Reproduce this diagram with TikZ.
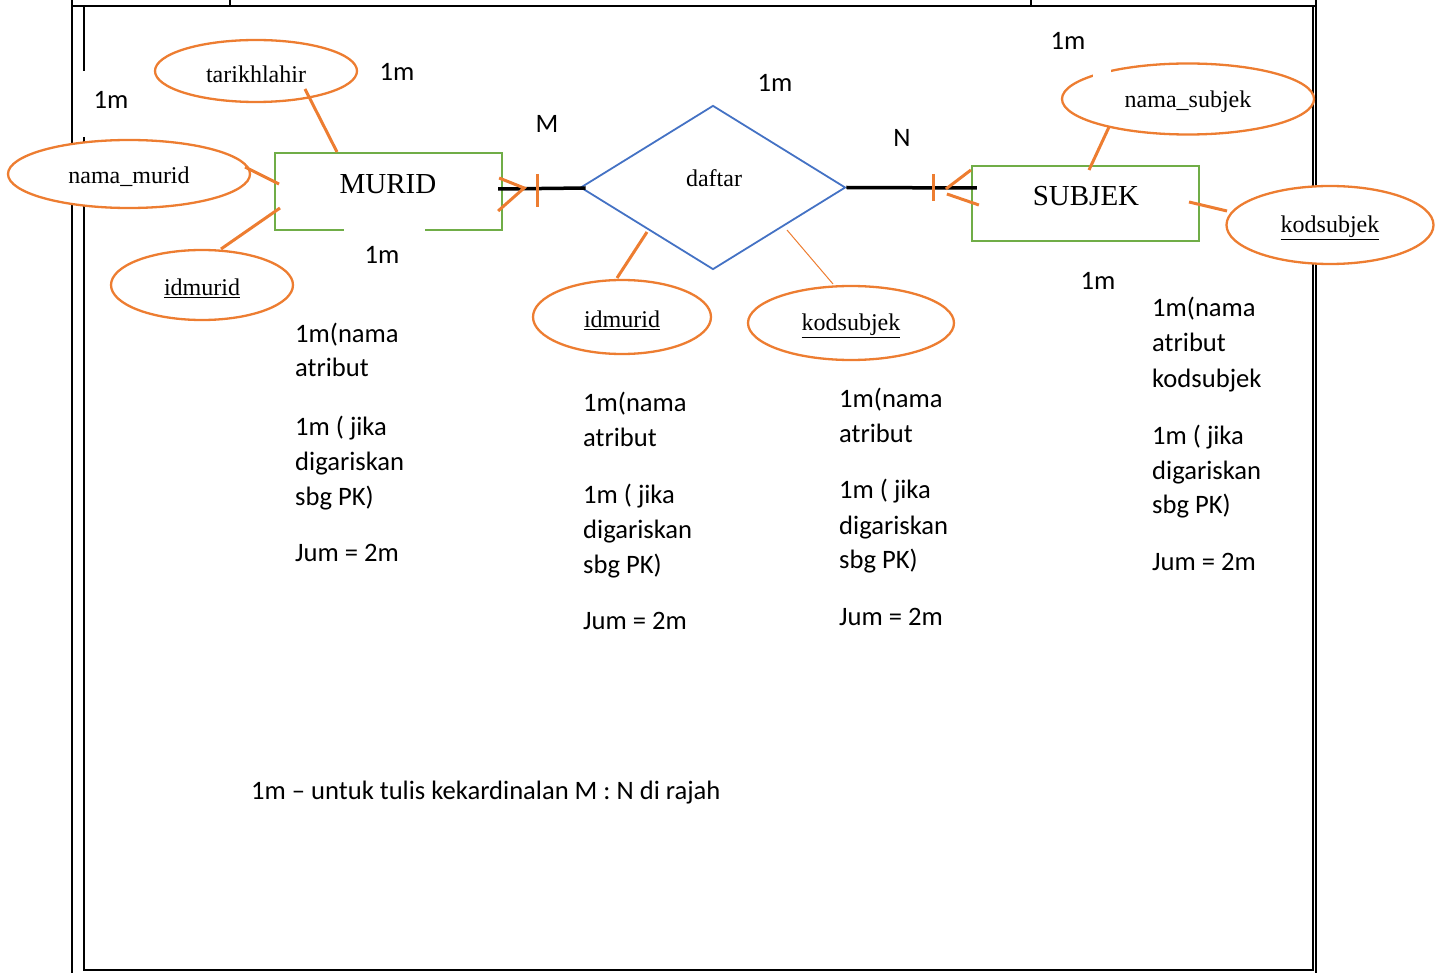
\documentclass[tikz,border=0pt]{standalone}
\usepackage{fontspec}
\setmainfont{Liberation Serif}
\newfontfamily\calib[Ligatures=TeX]{Carlito}
\usetikzlibrary{shapes.geometric,calc}
\definecolor{orng}{HTML}{ED7D31}
\definecolor{grn}{HTML}{70AD47}
\definecolor{blu}{HTML}{4472C4}
\newcommand{\lowr}[1]{\raisebox{-3pt}[\height][\depth]{#1}}
\begin{document}
\begin{tikzpicture}[x=1pt,y=-1pt,
  frame/.style={draw=black,line width=1.6pt},
  attr/.style={ellipse,draw=orng,line width=2.3pt,fill=white,inner sep=0pt,font=\fontsize{24}{28}\selectfont},
  entity/.style={rectangle,draw=grn,line width=2.2pt,inner sep=0pt},
  relsh/.style={diamond,draw=blu,line width=1.8pt,inner sep=0pt},
  conn/.style={draw=orng,line width=3pt},
  thinconn/.style={draw=orng,line width=1pt},
  relline/.style={draw=black,line width=3.5pt},
  lbl/.style={inner sep=0pt,font=\calib\fontsize{26.6}{32}\selectfont},
  serlbl/.style={inner sep=0pt,font=\fontsize{24}{28}\selectfont},
  bigser/.style={inner sep=0pt,font=\fontsize{29}{34}\selectfont}]
\useasboundingbox (0,0) rectangle (1437,973);
% frame
\draw[frame] (72,0) -- (72,973);
\draw[frame] (1316,0) -- (1316,973);
\draw[frame] (72,6) -- (1316,6);
\draw[frame] (230,0) -- (230,6);
\draw[frame] (1031,0) -- (1031,6);
\draw[frame] (84,6) -- (84,71);
\draw[frame] (84,137) -- (84,970) -- (1313,970) -- (1313,6);
% attributes
\node[attr,minimum width=202pt,minimum height=62pt] (tl) at (256,71) {\lowr{tarikhlahir}};
\node[attr,minimum width=242pt,minimum height=68pt] (nm) at (129,174) {\lowr{nama\_murid}};
\node[attr,minimum width=182pt,minimum height=70pt] (idL) at (202,285) {\lowr{\underline{idmurid}}};
\node[attr,minimum width=178pt,minimum height=74pt] (idM) at (622,317) {\lowr{\underline{idmurid}}};
\node[attr,minimum width=206pt,minimum height=74pt] (kodM) at (851,323) {\lowr{\underline{kodsubjek}}};
\node[attr,minimum width=252pt,minimum height=71pt] (ns) at (1188,99) {\lowr{nama\_subjek}};
\node[attr,minimum width=207pt,minimum height=78pt] (kodR) at (1330,225) {\lowr{\underline{kodsubjek}}};
\fill[white] (1093,66) rectangle (1111,80);
% entities and relationship
\node[entity,minimum width=227pt,minimum height=77pt] (murid) at (388.5,191.5) {};
\fill[white] (344,226) rectangle (425,235);
\node[bigser] (muridt) at (388,184) {MURID};
\node[entity,minimum width=227pt,minimum height=75pt] (subjek) at (1085.5,203.5) {};
\node[bigser] (subjekt) at (1086,196) {SUBJEK};
\node[relsh,minimum width=265pt,minimum height=164pt] (rel) at (713,187.5) {};
\node[serlbl] (relt) at (714,178) {daftar};
% attribute connectors
\draw[conn] ([shift={(49,18)}]tl.center) -- ([shift={(-51.5,-39.5)}]murid.center);
\draw[conn] ([shift={(116,-7)}]nm.center) -- ([shift={(-109.5,-7.5)}]murid.center);
\draw[conn] ([shift={(19,-36)}]idL.center) -- ([shift={(-108.5,16.5)}]murid.center);
\draw[conn] ([shift={(-66,44.5)}]rel.center) -- ([shift={(-5,-39)}]idM.center);
\draw[thinconn] ([shift={(74,42.5)}]rel.center) -- ([shift={(-18,-39)}]kodM.center);
\draw[conn] ([shift={(-79,28)}]ns.center) -- ([shift={(3.5,-33.5)}]subjek.center);
\draw[conn] ([shift={(103.5,-1.5)}]subjek.center) -- ([shift={(-103,-14)}]kodR.center);
% relationship lines
\draw[relline] ([shift={(-5,-2.5)}]murid.east) -- ([shift={(6,0.5)}]rel.west);
\draw[relline] (rel.east) -- ([shift={(6,-15.5)}]subjek.west);
% crow's feet and bars
\draw[conn] ([shift={(-4,-13.5)}]murid.east) -- ([shift={(21,-3.5)}]murid.east) -- ([shift={(-5,19.5)}]murid.east);
\draw[conn] ([shift={(34,-17.5)}]murid.east) -- ([shift={(34,15.5)}]murid.east);
\draw[conn] ([shift={(0,-33.5)}]subjek.west) -- ([shift={(-25,-14.5)}]subjek.west);
\draw[conn] ([shift={(-24,-9.5)}]subjek.west) -- ([shift={(8,1.5)}]subjek.west);
\draw[conn] ([shift={(-37,-29.5)}]subjek.west) -- ([shift={(-37,-2.5)}]subjek.west);
% marks
\node[lbl,anchor=base] (m1) at (111,109) {1m};
\node[lbl,anchor=base] (m2) at (397,81) {1m};
\node[lbl,anchor=base] (m3) at (775,92) {1m};
\node[lbl,anchor=base] (m4) at (1068,50) {1m};
\node[lbl,anchor=base] (m5) at (382,264) {1m};
\node[lbl,anchor=base] (m6) at (1098,290) {1m};
\node[lbl,anchor=base] (cm) at (547,133) {M};
\node[lbl,anchor=base] (cn) at (902,147) {N};
% block 1
\node[lbl,anchor=base west] (a1) at (295,342) {1m(nama};
\node[lbl,anchor=base west] (a2) at (295,377) {atribut};
\node[lbl,anchor=base west] (a3) at (295,435) {1m ( jika};
\node[lbl,anchor=base west] (a4) at (295,470) {digariskan};
\node[lbl,anchor=base west] (a5) at (295,505) {sbg PK)};
\node[lbl,anchor=base west] (a6) at (295,561) {Jum = 2m};
% block 2
\node[lbl,anchor=base west] (b1) at (583,411) {1m(nama};
\node[lbl,anchor=base west] (b2) at (583,446) {atribut};
\node[lbl,anchor=base west] (b3) at (583,503) {1m ( jika};
\node[lbl,anchor=base west] (b4) at (583,538) {digariskan};
\node[lbl,anchor=base west] (b5) at (583,573) {sbg PK)};
\node[lbl,anchor=base west] (b6) at (583,629) {Jum = 2m};
% block 3
\node[lbl,anchor=base west] (c1) at (839,407) {1m(nama};
\node[lbl,anchor=base west] (c2) at (839,442) {atribut};
\node[lbl,anchor=base west] (c3) at (839,498) {1m ( jika};
\node[lbl,anchor=base west] (c4) at (839,534) {digariskan};
\node[lbl,anchor=base west] (c5) at (839,568) {sbg PK)};
\node[lbl,anchor=base west] (c6) at (839,625) {Jum = 2m};
% block 4
\node[lbl,anchor=base west] (d1) at (1152,317) {1m(nama};
\node[lbl,anchor=base west] (d2) at (1152,352) {atribut};
\node[lbl,anchor=base west] (d3) at (1152,387) {kodsubjek};
\node[lbl,anchor=base west] (d4) at (1152,444) {1m ( jika};
\node[lbl,anchor=base west] (d5) at (1152,479) {digariskan};
\node[lbl,anchor=base west] (d6) at (1152,513) {sbg PK)};
\node[lbl,anchor=base west] (d7) at (1152,570) {Jum = 2m};
% footer
\node[lbl,anchor=base west] (foot) at (251,799) {1m – untuk tulis kekardinalan M : N di rajah};
\end{tikzpicture}
\end{document}
